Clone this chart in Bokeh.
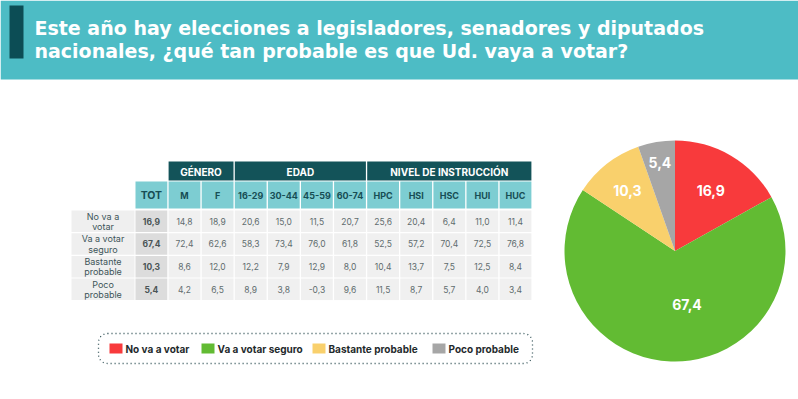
from bokeh.plotting import figure
from bokeh.models import Range1d, ColumnDataSource
from bokeh.embed import file_html
from bokeh.resources import INLINE
from bokeh.core.properties import value
import math

# ---------------- DATA ----------------
title_lines = ["Este año hay elecciones a legisladores, senadores y diputados",
               "nacionales, ¿qué tan probable es que Ud. vaya a votar?"]
categories = ["No va a votar", "Va a votar seguro", "Bastante probable", "Poco probable"]
row_labels = ["No va a\nvotar", "Va a votar\nseguro", "Bastante\nprobable", "Poco\nprobable"]
groups = ["GÉNERO", "EDAD", "NIVEL DE INSTRUCCIÓN"]
group_sizes = [2, 4, 5]
col_labels = ["TOT", "M", "F", "16-29", "30-44", "45-59", "60-74", "HPC", "HSI", "HSC", "HUI", "HUC"]
tot = [16.9, 67.4, 10.3, 5.4]
m_vals = [14.8, 72.4, 8.6, 4.2]
f_vals = [18.9, 62.6, 12.0, 6.5]
e16_29 = [20.6, 58.3, 12.2, 8.9]
e30_44 = [15.0, 73.4, 7.9, 3.8]
e45_59 = [11.5, 76.0, 12.9, -0.3]
e60_74 = [20.7, 61.8, 8.0, 9.6]
hpc = [25.6, 52.5, 10.4, 11.5]
hsi = [20.4, 57.2, 13.7, 8.7]
hsc = [6.4, 70.4, 7.5, 5.7]
hui = [11.0, 72.5, 12.5, 4.0]
huc = [11.4, 76.8, 8.4, 3.4]
columns = [tot, m_vals, f_vals, e16_29, e30_44, e45_59, e60_74, hpc, hsi, hsc, hui, huc]

# ---------------- STYLE ----------------
colors = ["#f83a3c", "#62bb33", "#f9d06c", "#a6a6a6"]
BANNER = "#4dbcc5"
DARK = "#135359"
LIGHT = "#7dcdd2"
FONT = value("Inter")
TFONT = value("DejaVu Sans")

def fmt(v):
    return f"{v:.1f}".replace(".", ",")

W, H = 798, 399
p = figure(width=W, height=H, output_backend="svg", toolbar_location=None,
           x_range=Range1d(0, W), y_range=Range1d(0, H), min_border=0)
p.axis.visible = False
p.grid.visible = False
p.outline_line_color = None
p.background_fill_color = "white"
p.border_fill_color = "white"

def Y(ry):
    return H - ry

# Banner
p.quad(left=[0], right=[W], top=[Y(0)], bottom=[Y(79)], fill_color=BANNER, line_color=None)
p.quad(left=[9], right=[23], top=[Y(5)], bottom=[Y(58)], fill_color="#0c4d55", line_color=None)
p.text(x=[34, 34], y=[Y(27), Y(50)], text=title_lines, text_font=TFONT, text_font_style="bold",
       text_font_size="19px", text_color="white", text_baseline="alphabetic")

# ---------------- TABLE ----------------
lab_left, lab_right = 71, 134
col0 = 135.0
step = 33.1
cw = 31.8
h1_top, h1_bot = 161, 180
h2_top, h2_bot = 181, 208
r_top0 = 210
r_step = 22.7
r_h = 21.5

# group header
gl, gr, gx = [], [], []
start = 1
for g, n in zip(groups, group_sizes):
    l = col0 + start * step
    r = col0 + (start + n - 1) * step + cw
    gl.append(l); gr.append(r); gx.append((l + r) / 2)
    start += n
p.quad(left=gl, right=gr, top=[Y(h1_top)] * 3, bottom=[Y(h1_bot)] * 3, fill_color=DARK, line_color=None)
p.text(x=gx, y=[Y((h1_top + h1_bot) / 2 + 0.5)] * 3, text=groups, text_font=FONT, text_font_style="bold",
       text_font_size="10px", text_color="white", text_align="center", text_baseline="middle")

# column header
cl = [col0 + i * step for i in range(len(col_labels))]
p.quad(left=cl, right=[c + cw for c in cl], top=[Y(h2_top)] * len(cl), bottom=[Y(h2_bot)] * len(cl),
       fill_color=LIGHT, line_color=None)
p.text(x=[c + cw / 2 for c in cl[1:]], y=[Y((h2_top + h2_bot) / 2 + 0.5)] * (len(cl) - 1), text=col_labels[1:],
       text_font=FONT, text_font_style="bold", text_font_size="9px", text_color="#174e55",
       text_align="center", text_baseline="middle")
p.text(x=[cl[0] + cw / 2], y=[Y((h2_top + h2_bot) / 2 + 0.5)], text=col_labels[:1],
       text_font=FONT, text_font_style="bold", text_font_size="10.5px", text_color="#174e55",
       text_align="center", text_baseline="middle")

# body
for ri, lab in enumerate(row_labels):
    top = r_top0 + ri * r_step
    bot = top + r_h
    cy = (top + bot) / 2
    p.quad(left=[lab_left], right=[lab_right], top=[Y(top)], bottom=[Y(bot)],
           fill_color="#efefef", line_color=None)
    p.text(x=[(lab_left + lab_right) / 2], y=[Y(cy)], text=[lab], text_font=FONT,
           text_font_size="9px", text_color="#3d5559", text_align="center",
           text_baseline="middle", text_line_height=0.95)
    fills = ["#dcdcdc"] + ["#f0f0f0"] * (len(cl) - 1)
    p.quad(left=cl, right=[c + cw for c in cl], top=[Y(top)] * len(cl), bottom=[Y(bot)] * len(cl),
           fill_color=fills, line_color=None)
    vals = [fmt(col[ri]) for col in columns]
    p.text(x=[c + cw / 2 for c in cl[1:]], y=[Y(cy)] * (len(cl) - 1), text=vals[1:], text_font=FONT,
           text_font_size="8.5px", text_color="#5f6c6e", text_align="center", text_baseline="middle")
    p.text(x=[cl[0] + cw / 2], y=[Y(cy)], text=[vals[0]], text_font=FONT, text_font_style="bold",
           text_font_size="8.5px", text_color="#4a5456", text_align="center", text_baseline="middle")

# ---------------- LEGEND ----------------
p.quad(left=[98], right=[532], top=[Y(333)], bottom=[Y(363)], fill_color=None,
       line_color="#2e4f54", line_dash="1 3", line_width=1.3, border_radius=9)
leg_x = [109, 201, 312, 432]
p.quad(left=leg_x, right=[x + 13 for x in leg_x], top=[Y(343)] * 4, bottom=[Y(353)] * 4,
       fill_color=colors, line_color=None)
p.text(x=[x + 16 for x in leg_x], y=[Y(348.5)] * 4, text=categories, text_font=FONT,
       text_font_style="bold", text_font_size="10px", text_color="#1f2a2c", text_baseline="middle")

# ---------------- PIE ----------------
cx, cy_ref, R = 674.5, 250.5, 110.5
total = sum(tot)
starts, ends, lx, ly = [], [], [], []
label_r = [0.64, 0.48, 0.70, 0.81]
label_shift = [0, 14, 0, 0]
cum = 0.0
for i, v in enumerate(tot):
    a0 = math.pi / 2 - 2 * math.pi * (cum + v) / total
    a1 = math.pi / 2 - 2 * math.pi * cum / total
    starts.append(a0); ends.append(a1)
    mid = (a0 + a1) / 2
    lx.append(cx + R * label_r[i] * math.cos(mid) + label_shift[i])
    ly.append(Y(cy_ref) + R * label_r[i] * math.sin(mid))
    cum += v
src = ColumnDataSource(dict(start=starts, end=ends, color=colors))
p.wedge(x=cx, y=Y(cy_ref), radius=R, start_angle="start", end_angle="end", direction="anticlock",
        fill_color="color", line_color=None, source=src)
p.text(x=lx, y=ly, text=[fmt(v) for v in tot], text_font=FONT, text_font_style="bold",
       text_font_size="14px", text_color="white", text_align="center", text_baseline="middle")

open("out.html", "w").write(file_html(p, INLINE))
